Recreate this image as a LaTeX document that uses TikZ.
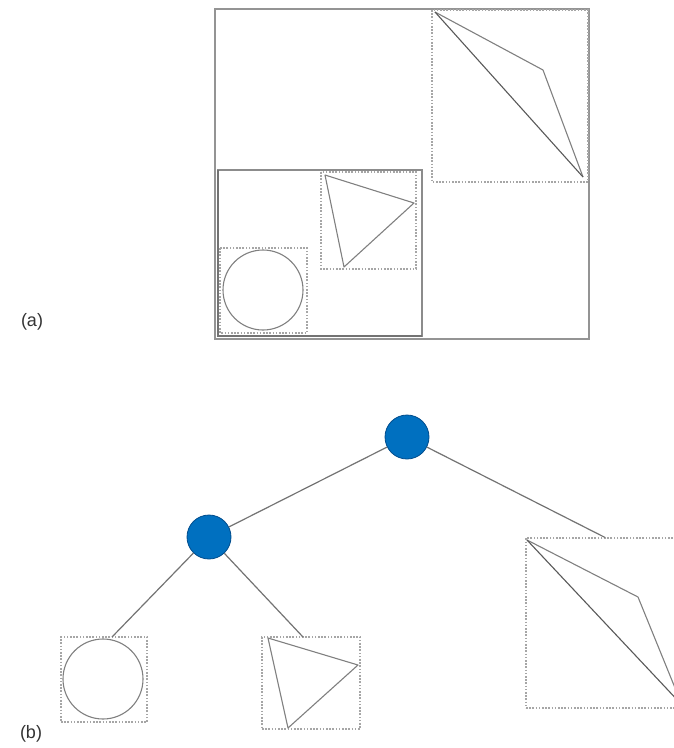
\documentclass[tikz,border=0pt]{standalone}
\usepackage{fontspec}
\setmainfont{Liberation Sans}
\begin{document}
\begin{tikzpicture}[x=1pt,y=-1pt,
  solidbox/.style={draw=black!42, line width=1.6pt},
  dotbox/.style={draw=black!35, line width=1.1pt, dash pattern=on 1.6pt off 1.6pt},
  shapeline/.style={draw=black!50, line width=1.1pt, line join=round},
  diagline/.style={draw=black!65, line width=1.1pt},
  treenode/.style={circle, fill={rgb,255:red,0;green,112;blue,192}, draw={rgb,255:red,0;green,76;blue,140}, line width=0.8pt, minimum size=44pt, inner sep=0pt},
  edge/.style={draw=black!55, line width=1.2pt},
  lbl/.style={font=\fontsize{18}{20}\selectfont, text=black!80, inner sep=0pt}
]
\useasboundingbox (0,0) rectangle (674,748);
\clip (0,0) rectangle (674,748);

% ---------- (a) ----------
\node[lbl] (la) at (32,322) {(a)};
\draw[solidbox] (215,9) rectangle (589,339);
\draw[solidbox, draw=black!45] (218,170) rectangle (422,336);
\draw[draw=black!55, line width=2pt] (218,170) -- (218,336) -- (422,336);
% upper-right quad
\draw[dotbox] (432,10) rectangle (588,182);
\draw[shapeline] (435,12) -- (543,70) -- (583,177);
\draw[diagline] (435,12) -- (583,177);
% triangle
\draw[dotbox] (321,172) rectangle (416,269);
\draw[shapeline] (325,175) -- (414,203) -- (344,267) -- cycle;
% circle
\draw[dotbox] (220,248) rectangle (307,333);
\draw[shapeline] (263,290) circle[radius=40];

% ---------- (b) ----------
\node[lbl] (lb) at (31,734) {(b)};
\node[treenode] (root) at (407,437) {};
\node[treenode] (left) at (209,537) {};

\node[dotbox, minimum width=158pt, minimum height=170pt, inner sep=0pt] (rb) at (605,623) {};
\node[dotbox, minimum width=86pt, minimum height=85pt, inner sep=0pt] (cb) at (104,679.5) {};
\node[dotbox, minimum width=98pt, minimum height=92pt, inner sep=0pt] (tb) at (311,683) {};

\coordinate (cbt) at (112,637);
\coordinate (tbt) at (303,637);

\draw[edge] (root) -- (left);
\draw[edge] (root) -- (rb.north);
\draw[edge] (left) -- (cbt);
\draw[edge] (left) -- (tbt);

% shapes inside (b) boxes
\draw[shapeline] (103,679) circle[radius=40];
\draw[shapeline] (268,638) -- (358,665) -- (288,728) -- cycle;
\draw[shapeline] (527,540) -- (638,597) -- (682,705);
\draw[diagline] (527,540) -- (682,705);
\end{tikzpicture}
\end{document}
